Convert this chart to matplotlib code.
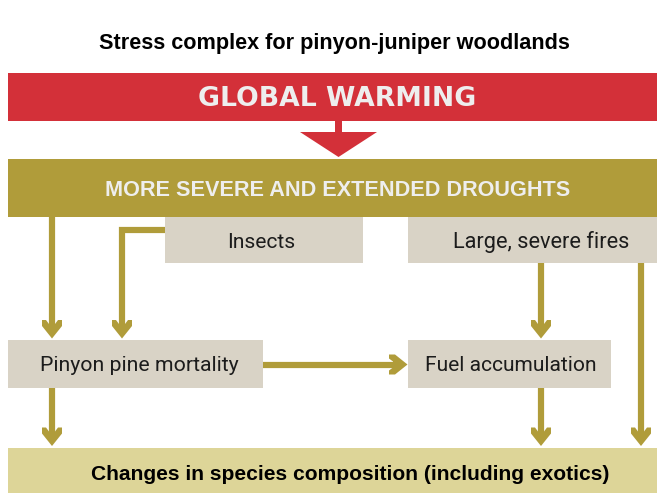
import matplotlib
matplotlib.use('Agg')
import matplotlib.pyplot as plt
from matplotlib.patches import Rectangle, Polygon
from matplotlib import font_manager as fm

# ---- content ----
title = "Stress complex for pinyon-juniper woodlands"
driver_labels = ["GLOBAL WARMING", "MORE SEVERE AND EXTENDED DROUGHTS"]
factor_labels = ["Insects", "Large, severe fires"]
effect_labels = ["Pinyon pine mortality", "Fuel accumulation"]
outcome_label = "Changes in species composition (including exotics)"

# ---- style ----
RED = '#D33039'
OLIVE = '#B09C3A'
BOX = '#D9D3C6'
BOTTOM = '#DDD598'
HEAD_TXT = '#EEEEEE'
W, H = 657, 493

names = {f.name for f in fm.fontManager.ttflist}
def pick(*cands):
    for n in cands:
        if n in names:
            return n
    return 'DejaVu Sans'

caps_font = 'DejaVu Sans'
regular = pick('Liberation Sans', 'Roboto', 'DejaVu Sans')
box_font = pick('Roboto', 'Liberation Sans')

fig = plt.figure(figsize=(W / 100, H / 100), dpi=100)
ax = fig.add_axes([0, 0, 1, 1])
ax.set_xlim(0, W)
ax.set_ylim(H, 0)
ax.axis('off')

# ---- layout (pixel units) ----
boxes = {
    'warming': (8, 73, 657, 121, RED),
    'drought': (8, 159, 657, 217, OLIVE),
    'insects': (165, 217, 363, 263, BOX),
    'fires': (408, 217, 657, 263, BOX),
    'pinyon': (8, 340, 263, 388, BOX),
    'fuel': (408, 340, 611, 388, BOX),
    'outcome': (8, 448, 657, 493, BOTTOM),
}
for key, (x0, y0, x1, y1, c) in boxes.items():
    ax.add_patch(Rectangle((x0, y0), x1 - x0, y1 - y0, facecolor=c, edgecolor='none', zorder=1))

# red block arrow
ax.add_patch(Rectangle((335, 120), 7, 13, facecolor=RED, edgecolor='none', zorder=2))
ax.add_patch(Polygon([(300, 132), (377, 132), (338.5, 157)], closed=True,
                     facecolor=RED, edgecolor='none', zorder=2))

LW = 6.2 * 72 / 100
HEAD = [(-10, 0), (-6, 0), (-3, 4), (3, 4), (6, 0), (10, 0), (10, 6), (0, 18.5), (-10, 6)]

def connector(points, direction):
    """points: polyline; last point is the arrow tip."""
    tip = points[-1]
    pts = list(points[:-1])
    if direction == 'down':
        stem_end = (tip[0], tip[1] - 14)
        head = [(tip[0] + a, tip[1] - 18.5 + b) for a, b in HEAD]
    else:  # right
        stem_end = (tip[0] - 14, tip[1])
        head = [(tip[0] - 18.5 + b, tip[1] + a) for a, b in HEAD]
    pts.append(stem_end)
    xs = [p[0] for p in pts]
    ys = [p[1] for p in pts]
    ax.plot(xs, ys, color=OLIVE, lw=LW, solid_capstyle='butt', solid_joinstyle='miter', zorder=3)
    ax.add_patch(Polygon(head, closed=True, facecolor=OLIVE, edgecolor='none', zorder=3))

connector([(52, 217), (52, 338.5)], 'down')
connector([(165, 230), (122, 230), (122, 338.5)], 'down')
connector([(541, 263), (541, 338.5)], 'down')
connector([(641, 263), (641, 446)], 'down')
connector([(52, 388), (52, 446)], 'down')
connector([(541, 388), (541, 446)], 'down')
connector([(263, 364.5), (407.5, 364.5)], 'right')

# ---- texts ----
texts = []
def put(s, x, y, width, color, family, weight, va='baseline'):
    t = ax.text(x, y, s, ha='center', va=va, color=color, family=[family, 'DejaVu Sans'],
                fontweight=weight, fontsize=12, zorder=5)
    texts.append((t, width))
    return t

put(title, 334, 43, 468, 'black', regular, 'bold', va='center')
put(driver_labels[0], 337, 105.5, 277, HEAD_TXT, caps_font, 'bold')
put(driver_labels[1], 338, 195.5, 463, HEAD_TXT, regular, 'bold')
put(factor_labels[0], 261, 248, 68, '#1c1c1c', box_font, 'normal')
put(factor_labels[1], 541, 248, 176, '#1c1c1c', box_font, 'normal')
put(effect_labels[0], 139, 371, 198, '#1c1c1c', box_font, 'normal')
put(effect_labels[1], 511, 371, 171, '#1c1c1c', box_font, 'normal')
put(outcome_label, 350, 480, 515, 'black', regular, 'bold')

fig.canvas.draw()
r = fig.canvas.get_renderer()
for t, wt in texts:
    bb = t.get_window_extent(r)
    t.set_fontsize(t.get_fontsize() * wt / bb.width)

fig.savefig('out.png', dpi=100)
